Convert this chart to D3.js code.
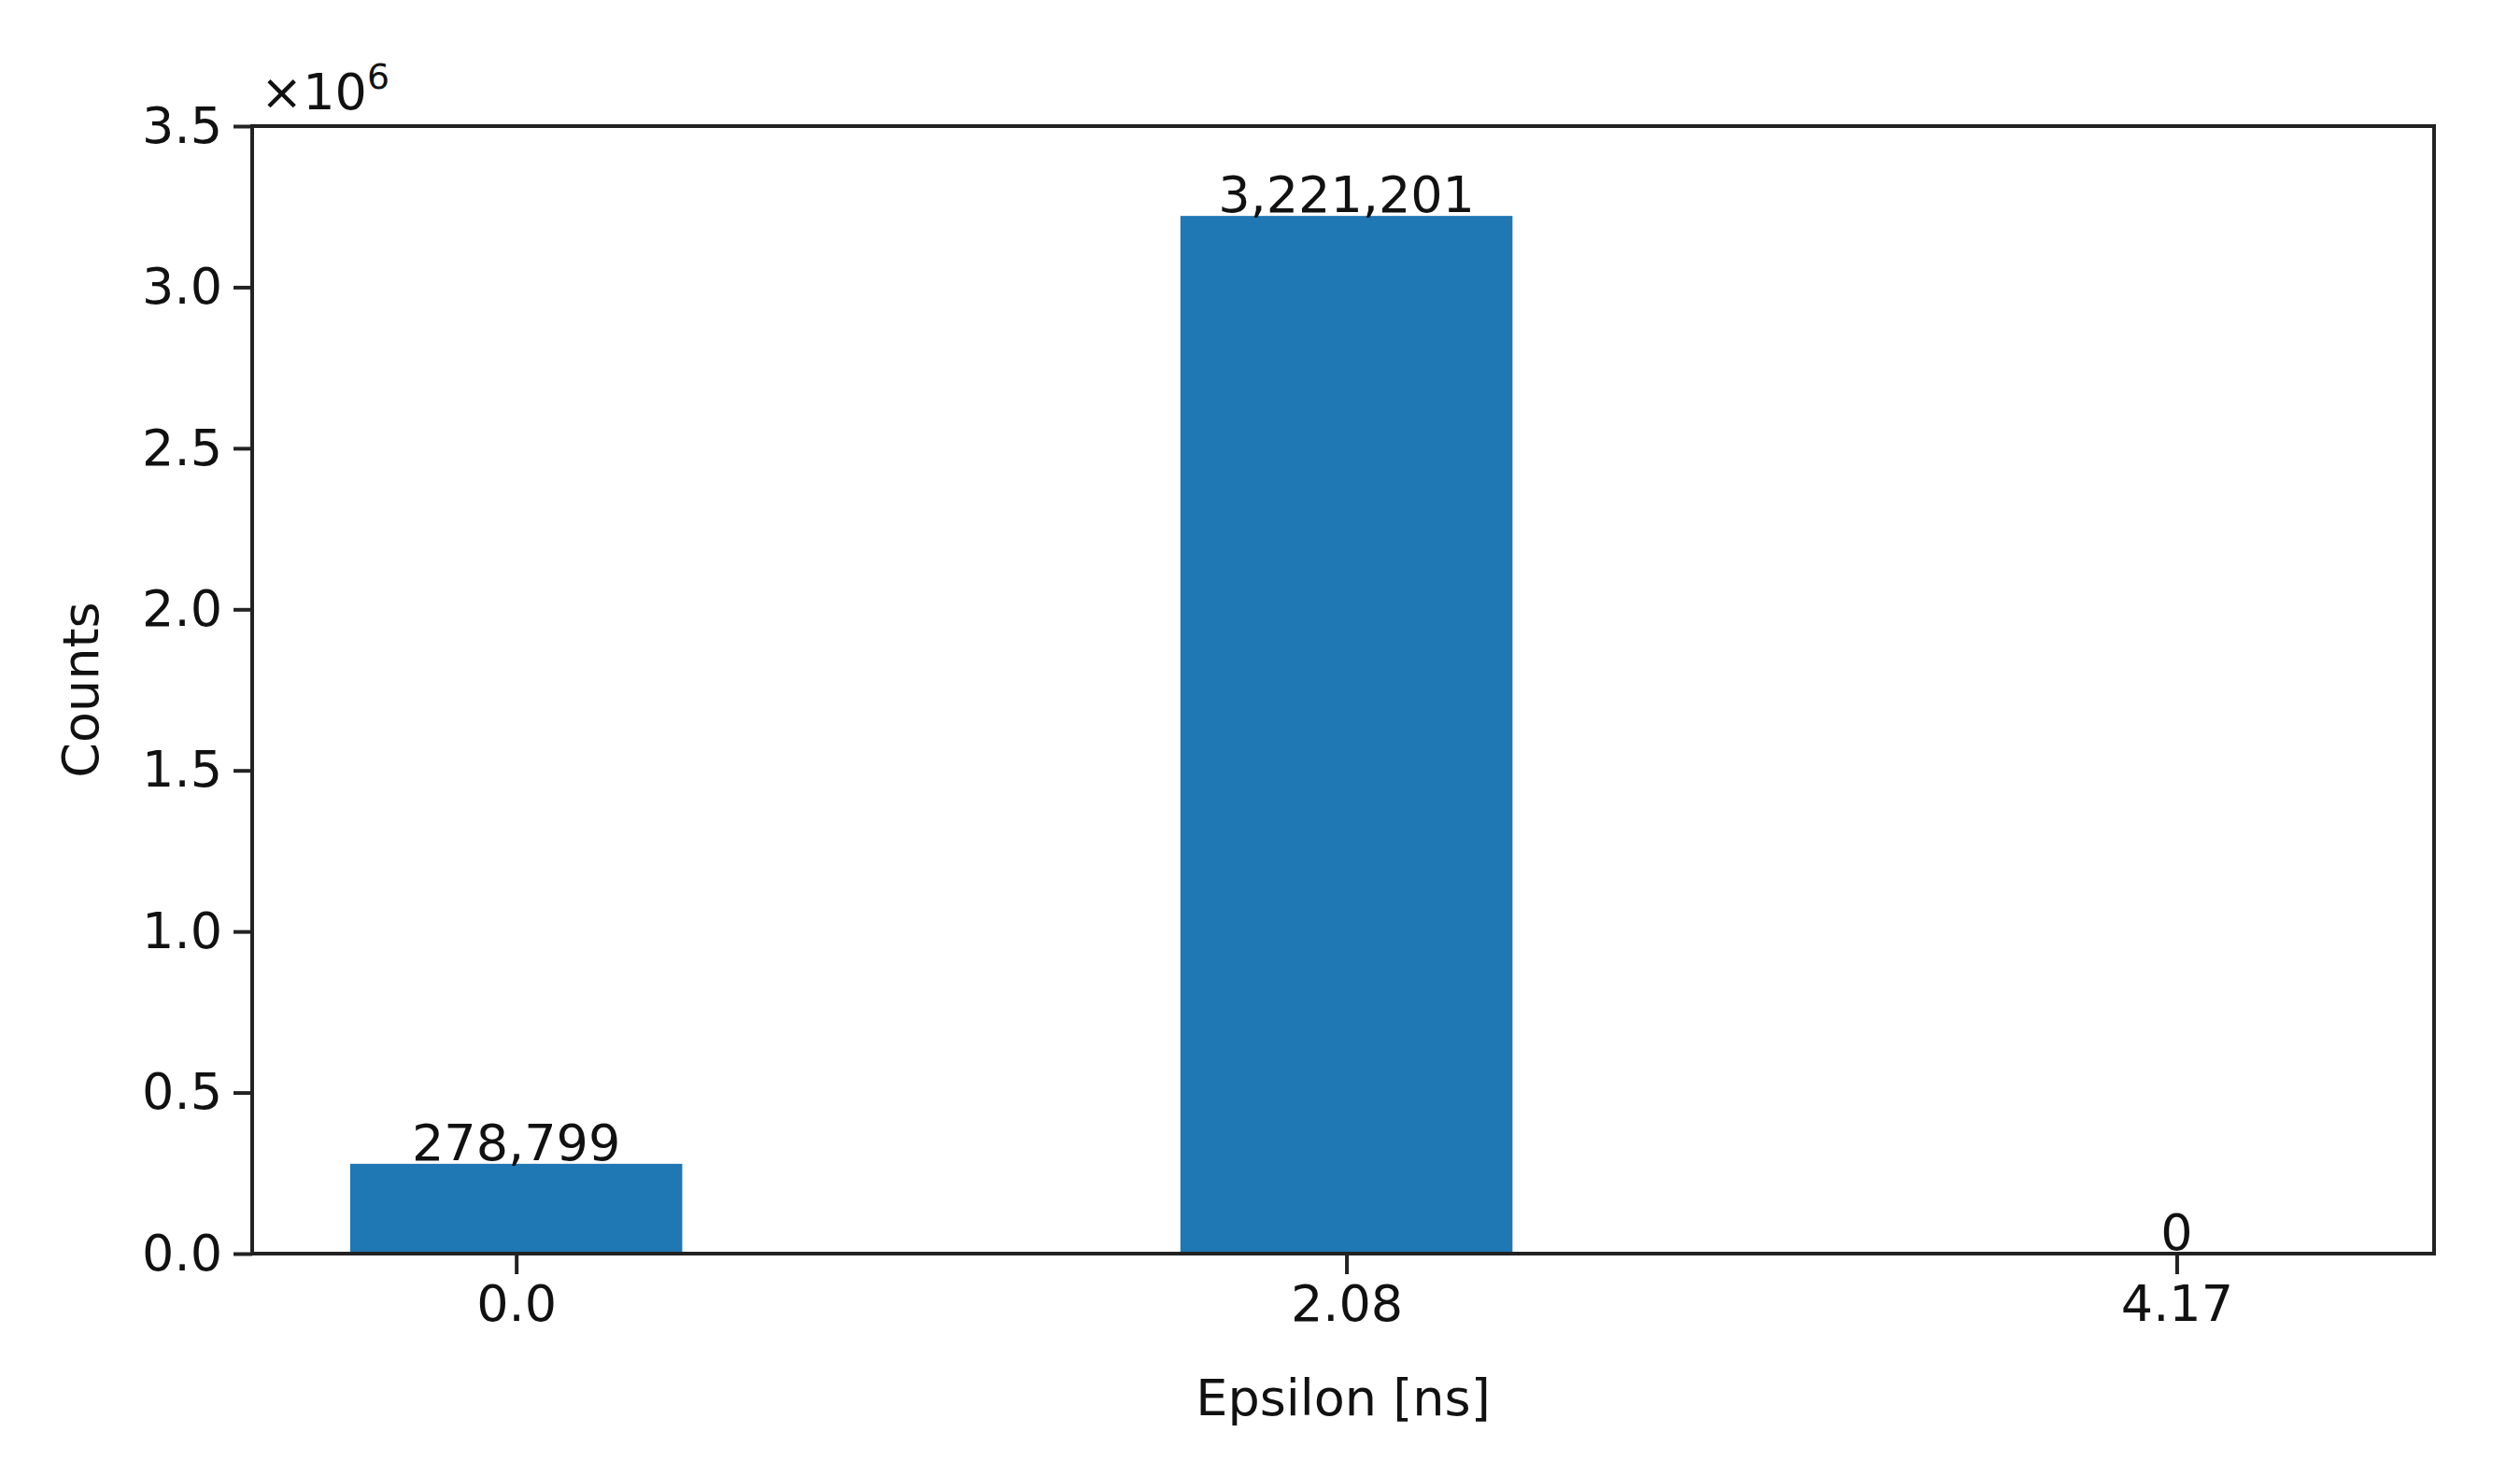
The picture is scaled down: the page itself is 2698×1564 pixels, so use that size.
<!DOCTYPE html>
<html><head><meta charset="utf-8">
<script src="https://cdn.jsdelivr.net/npm/d3@7"></script>
<style>body{margin:0;background:#fff}svg text{font-family:"DejaVu Sans";fill:#111}</style>
</head><body>
<svg id="c" width="2698" height="1564"></svg>
<script>
const categories = ["0.0", "2.08", "4.17"];
const counts = [278799, 3221201, 0];
const yTicks = [0, 0.5, 1.0, 1.5, 2.0, 2.5, 3.0, 3.5];

const L = 270, R = 2606, T = 135, B = 1342, FS = 54;
const svg = d3.select("#c");
const x = d3.scaleLinear().domain([-0.318, 2.31]).range([L, R]);
const y = d3.scaleLinear().domain([0, 3.5e6]).range([B, T]);
const bw = x(0.4) - x(0);
const fmt = d3.format(",");

svg.selectAll("rect.bar").data(counts).join("rect")
  .attr("x", (d, i) => x(i) - bw / 2).attr("width", bw)
  .attr("y", d => y(d)).attr("height", d => B - y(d))
  .attr("fill", "#1f77b4");

svg.selectAll("text.val").data(counts).join("text")
  .attr("x", (d, i) => x(i)).attr("y", d => y(d) - 4)
  .attr("text-anchor", "middle").attr("font-size", FS).text(d => fmt(d));

const xa = svg.append("g").attr("transform", `translate(0,${B})`)
  .call(d3.axisBottom(x).tickValues([0, 1, 2]).tickFormat(i => categories[i]).tickSize(22).tickPadding(12));
const ya = svg.append("g").attr("transform", `translate(${L},0)`)
  .call(d3.axisLeft(y).tickValues(yTicks.map(v => v * 1e6)).tickFormat(v => (v / 1e6).toFixed(1)).tickSize(20).tickPadding(12));
[xa, ya].forEach(a => {
  a.select(".domain").remove();
  a.selectAll("line").attr("stroke", "#222").attr("stroke-width", 4);
  a.selectAll("text").attr("font-size", FS).attr("fill", "#111").style("font-family", "DejaVu Sans");
});

svg.append("rect").attr("x", L).attr("y", T).attr("width", R - L).attr("height", B - T)
  .attr("fill", "none").attr("stroke", "#222").attr("stroke-width", 4);

const m = svg.append("text").attr("x", 279).attr("y", 117).attr("font-size", FS);
m.append("tspan").text("×10");
m.append("tspan").attr("font-size", FS * 0.7).attr("dy", -22).text("6");

svg.append("text").attr("x", (L + R) / 2).attr("y", 1515).attr("text-anchor", "middle")
  .attr("font-size", FS).text("Epsilon [ns]");
svg.append("text").attr("transform", `translate(105,${(T + B) / 2}) rotate(-90)`)
  .attr("text-anchor", "middle").attr("font-size", FS).text("Counts");
</script>
</body></html>
